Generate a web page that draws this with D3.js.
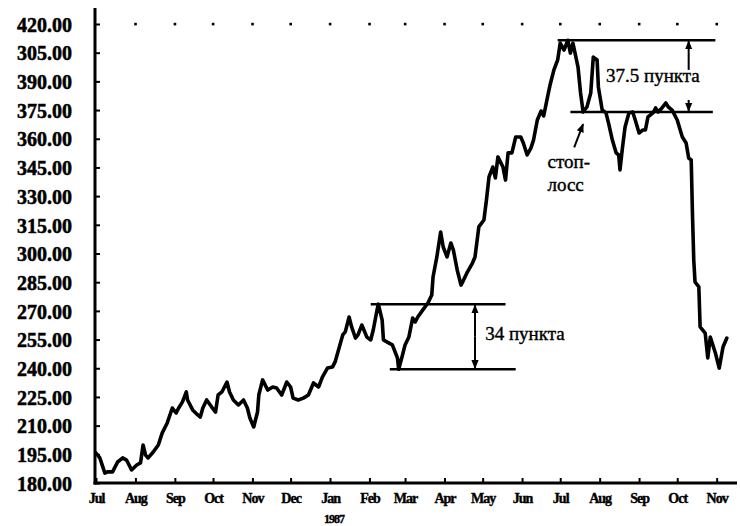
<!DOCTYPE html>
<html>
<head>
<meta charset="utf-8">
<script src="https://cdn.jsdelivr.net/npm/d3@7"></script>
<style>
  html, body { margin: 0; padding: 0; background: #fff; }
  svg { display: block; }
  .ylab text { font-family: "Liberation Serif", "DejaVu Serif", "Times New Roman", serif; font-weight: bold; font-size: 20px; fill: #000; stroke: #000; stroke-width: 0.5px; }
  .xlab text { font-family: "Liberation Serif", "DejaVu Serif", "Times New Roman", serif; font-weight: bold; font-size: 14px; letter-spacing: -1px; fill: #000; stroke: #000; stroke-width: 0.4px; }
  .note { font-family: "Liberation Serif", "DejaVu Serif", "Times New Roman", serif; font-size: 19px; fill: #000; stroke: #000; stroke-width: 0.4px; }
</style>
</head>
<body>
<svg id="chart" width="740" height="526"></svg>
<script>
// Index level, July 1986 – November 1987
const dates = [
  "1986-07-01","1986-07-04","1986-07-08","1986-07-10","1986-07-14","1986-07-18","1986-07-22","1986-07-25","1986-07-29",
  "1986-08-02","1986-08-05","1986-08-07","1986-08-09","1986-08-11","1986-08-15","1986-08-19","1986-08-22","1986-08-26","1986-08-30",
  "1986-09-02","1986-09-04","1986-09-07","1986-09-10","1986-09-11","1986-09-15","1986-09-19","1986-09-21","1986-09-23","1986-09-26","1986-09-30",
  "1986-10-03","1986-10-05","1986-10-08","1986-10-12","1986-10-14","1986-10-17","1986-10-21","1986-10-25","1986-10-28","1986-10-30",
  "1986-11-02","1986-11-05","1986-11-06","1986-11-09","1986-11-13","1986-11-17","1986-11-20","1986-11-24","1986-11-28",
  "1986-12-01","1986-12-03","1986-12-07","1986-12-11","1986-12-15","1986-12-19","1986-12-23","1986-12-26","1986-12-30",
  "1987-01-03","1987-01-05","1987-01-07","1987-01-11","1987-01-13","1987-01-16","1987-01-18","1987-01-21","1987-01-23","1987-01-26","1987-01-30",
  "1987-02-02","1987-02-04","1987-02-07","1987-02-08","1987-02-11","1987-02-12","1987-02-15","1987-02-19","1987-02-23","1987-02-24","1987-02-27",
  "1987-03-01","1987-03-04","1987-03-07","1987-03-09","1987-03-11","1987-03-15","1987-03-19","1987-03-22","1987-03-23","1987-03-26","1987-03-29","1987-03-31",
  "1987-04-03","1987-04-06","1987-04-08","1987-04-11","1987-04-14","1987-04-16","1987-04-19","1987-04-23","1987-04-25","1987-04-28",
  "1987-05-02","1987-05-04","1987-05-06","1987-05-09","1987-05-11","1987-05-13","1987-05-17","1987-05-19","1987-05-21","1987-05-24","1987-05-27","1987-05-31",
  "1987-06-02","1987-06-05","1987-06-08","1987-06-10","1987-06-13","1987-06-16","1987-06-18","1987-06-21","1987-06-23","1987-06-26","1987-06-29",
  "1987-07-01","1987-07-04","1987-07-07","1987-07-09","1987-07-11","1987-07-15","1987-07-17","1987-07-19","1987-07-22","1987-07-25","1987-07-27","1987-07-30","1987-07-31",
  "1987-08-03","1987-08-06","1987-08-08","1987-08-11","1987-08-14","1987-08-16","1987-08-17","1987-08-19","1987-08-21","1987-08-24","1987-08-27","1987-08-29",
  "1987-09-01","1987-09-04","1987-09-06","1987-09-08","1987-09-12","1987-09-14","1987-09-16","1987-09-19","1987-09-22","1987-09-24","1987-09-27",
  "1987-10-01","1987-10-05","1987-10-08","1987-10-10","1987-10-12","1987-10-13","1987-10-14","1987-10-15","1987-10-18","1987-10-19","1987-10-23","1987-10-25","1987-10-27","1987-10-31",
  "1987-11-03","1987-11-06","1987-11-09"
];
const values = [
  195.7,193.1,185.2,185.8,185.8,191.0,193.1,192.0,186.8,
  189.4,190.5,199.9,194.6,193.1,196.2,199.9,206.1,211.4,219.2,
  216.6,219.2,222.4,227.6,223.4,218.2,215.6,214.5,219.2,223.4,219.7,
  217.1,226.0,227.6,232.8,227.6,223.4,220.8,223.4,219.2,214.0,
  209.3,217.1,226.0,233.9,228.6,230.2,229.7,226.0,232.8,
  230.2,224.4,223.4,224.4,226.0,232.3,230.2,235.4,240.1,
  240.7,243.3,248.0,257.4,259.0,266.8,261.6,255.8,257.4,262.6,256.3,
  254.8,260.0,270.5,273.5,265.2,254.8,253.7,252.2,245.4,239.5,246.9,
  252.2,256.3,266.3,264.2,266.8,270.5,274.1,278.3,287.7,298.2,311.2,303.4,
  298.2,305.5,301.8,291.4,283.5,286.1,290.3,295.0,298.2,313.9,
  317.5,328.0,340.0,345.2,339.5,350.5,345.2,338.4,352.6,352.6,360.9,360.9,
  357.8,351.5,355.2,359.3,369.8,374.5,371.9,381.8,388.1,395.9,401.2,
  410.0,406.4,411.5,404.8,410.0,397.5,383.9,374.0,376.6,383.9,402.7,401.2,387.1,
  375.0,373.5,368.2,359.3,352.6,351.5,343.7,355.7,366.1,373.5,374.0,369.8,
  363.0,364.6,364.6,371.4,373.5,376.1,374.0,376.1,378.7,376.6,375.0,
  369.8,360.9,357.8,349.9,348.9,320.1,296.6,285.1,282.5,261.6,258.4,245.4,256.3,248.0,
  240.1,251.1,255.8
];

// Axis labels
const monthLabels = ["Jul","Aug","Sep","Oct","Nov","Dec","Jan","Feb","Mar","Apr","May","Jun","Jul","Aug","Sep","Oct","Nov"];
const yearLabel = "1987";
const yTicks = [180,195,210,225,240,255,270,285,300,315,330,345,360,375,390,405,420];
const yLabels = ["180.00","195.00","210.00","225.00","240.00","255.00","270.00","285.00","300.00",
                 "315.00","330.00","345.00","360.00","375.00","390.00","305.00","420.00"];

// Range markers and their captions
const rangeStarts = ["1987-02-02","1987-02-17","1987-06-29","1987-07-09"];
const rangeEnds   = ["1987-05-19","1987-05-27","1987-10-31","1987-10-29"];
const rangeLevels = [273.5, 239.5, 411.5, 374.0];
const arrowDates  = ["1987-04-25","1987-04-25","1987-10-10","1987-10-10","1987-07-12"];
const arrowFrom   = [256.5, 256.5, 396.0, 380.3, 355.5];
const arrowTo     = [273.5, 239.5, 411.5, 374.0, 368.2];
const arrowToDate = ["1987-04-25","1987-04-25","1987-10-10","1987-10-10","1987-07-19"];
const captions     = ["34 пункта", "37.5 пункта", "стоп-", "лосс"];
const captionDates = ["1987-05-03", "1987-08-06", "1987-06-21", "1987-06-21"];

const parse = d3.timeParse("%Y-%m-%d");
const data = dates.map((d, i) => ({ date: parse(d), value: values[i] }));

const svg = d3.select("#chart");
const x = d3.scaleTime().domain([new Date(1986, 6, 1), new Date(1987, 10, 17)]).range([96, 737]);
const y = d3.scaleLinear().domain([180, 420]).range([483, 24]);

// Y axis with inward ticks
const yAxis = d3.axisLeft(y).tickValues(yTicks).tickFormat((d, i) => yLabels[i])
  .tickSizeInner(-5).tickSizeOuter(0).tickPadding(23);
const gy = svg.append("g").attr("class", "ylab").attr("transform", "translate(95,0)").call(yAxis);
gy.attr("font-family", null).attr("font-size", null);
gy.select(".domain").remove();
gy.selectAll(".tick line").attr("stroke", "#000").attr("stroke-width", 2);
gy.selectAll(".tick text").attr("dy", "0.36em");

// X axis with month ticks
const monthDates = d3.timeMonth.range(new Date(1986, 6, 1), new Date(1987, 10, 2));
const xAxis = d3.axisBottom(x).tickValues(monthDates).tickFormat((d, i) => monthLabels[i])
  .tickSizeInner(-5).tickSizeOuter(0).tickPadding(10);
const gx = svg.append("g").attr("class", "xlab").attr("transform", "translate(0,483)").call(xAxis);
gx.attr("font-family", null).attr("font-size", null);
gx.select(".domain").remove();
gx.selectAll(".tick line").attr("stroke", "#000").attr("stroke-width", 2);

gx.append("text").attr("x", x(monthDates[6]) + 4).attr("y", 40)
  .attr("text-anchor", "middle").attr("fill", "#000").style("font-size", "12px").text(yearLabel);

// Axis lines
svg.append("line").attr("x1", 95).attr("x2", 95).attr("y1", 8).attr("y2", 484.5)
  .attr("stroke", "#000").attr("stroke-width", 3);
svg.append("line").attr("x1", 93.5).attr("x2", x.range()[1]).attr("y1", 483).attr("y2", 483)
  .attr("stroke", "#000").attr("stroke-width", 3);

// Dotted row along the top level
svg.append("g").selectAll("rect").data(monthDates.slice(1)).join("rect")
  .attr("x", d => x(d) - 1.2).attr("y", y(420) - 1.2).attr("width", 2.6).attr("height", 2.6).attr("fill", "#000");

// Price line
const line = d3.line().x(d => x(d.date)).y(d => y(d.value));
svg.append("path").datum(data).attr("d", line)
  .attr("fill", "none").attr("stroke", "#000").attr("stroke-width", 3.6)
  .attr("stroke-linejoin", "round").attr("stroke-linecap", "round");

// Horizontal range markers
svg.append("g").selectAll("line").data(rangeLevels).join("line")
  .attr("x1", (d, i) => x(parse(rangeStarts[i]))).attr("x2", (d, i) => x(parse(rangeEnds[i])))
  .attr("y1", d => y(d)).attr("y2", d => y(d))
  .attr("stroke", "#000").attr("stroke-width", 2.4);

// Arrows
const defs = svg.append("defs");
defs.append("marker").attr("id", "head").attr("viewBox", "0 0 10 10")
  .attr("refX", 9).attr("refY", 5).attr("markerWidth", 9).attr("markerHeight", 9)
  .attr("markerUnits", "userSpaceOnUse").attr("orient", "auto")
  .append("path").attr("d", "M0,1 L10,5 L0,9 Z").attr("fill", "#000");
svg.append("g").selectAll("line").data(arrowFrom).join("line")
  .attr("x1", (d, i) => x(parse(arrowDates[i]))).attr("y1", d => y(d))
  .attr("x2", (d, i) => x(parse(arrowToDate[i]))).attr("y2", (d, i) => y(arrowTo[i]) + (arrowTo[i] > d ? 1 : -1))
  .attr("stroke", "#000").attr("stroke-width", 2)
  .attr("marker-end", "url(#head)");

// Captions
const capY = [340, 82, 168, 191];
svg.append("g").selectAll("text").data(captions).join("text")
  .attr("class", "note")
  .attr("x", (d, i) => x(parse(captionDates[i]))).attr("y", (d, i) => capY[i])
  .text(d => d);
</script>
</body>
</html>
